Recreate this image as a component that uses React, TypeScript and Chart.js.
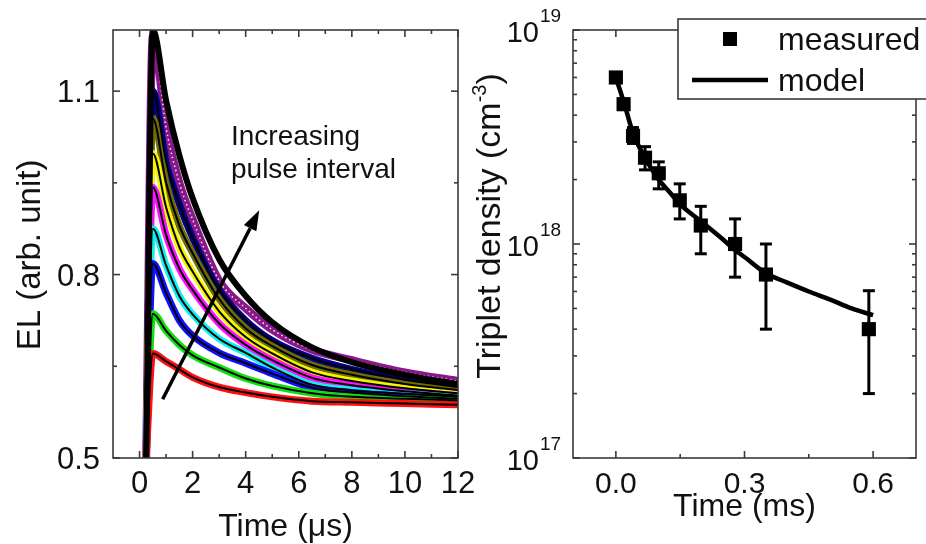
import React, { useEffect, useRef } from 'react';
import { Chart, registerables } from 'chart.js';
Chart.register(...registerables);

const FONT = "'Liberation Sans', Arial, Helvetica, sans-serif";
const INK = '#111111';
const FRAME = '#3a3a3a';

// ---------- left panel: EL transients ----------
const EL_TIME_US = [0.25, 0.5, 1, 1.5, 2, 3, 4, 5, 6.5, 8, 10, 12];
const EL_RED = [0.5, 0.671, 0.658, 0.645, 0.632, 0.616, 0.607, 0.6, 0.593, 0.591, 0.589, 0.587];
const EL_GREEN = [0.5, 0.736, 0.708, 0.685, 0.668, 0.648, 0.63, 0.618, 0.606, 0.6, 0.597, 0.594];
const EL_BLUE = [0.5, 0.818, 0.77, 0.725, 0.7, 0.672, 0.655, 0.638, 0.615, 0.607, 0.601, 0.597];
const EL_CYAN = [0.5, 0.875, 0.815, 0.765, 0.735, 0.695, 0.672, 0.648, 0.62, 0.611, 0.605, 0.6];
const EL_MAGENTA = [0.5, 0.943, 0.865, 0.81, 0.775, 0.72, 0.685, 0.66, 0.631, 0.619, 0.609, 0.602];
const EL_YELLOW = [0.5, 0.998, 0.91, 0.845, 0.805, 0.74, 0.698, 0.671, 0.64, 0.626, 0.614, 0.606];
const EL_OLIVE = [0.5, 1.055, 0.95, 0.88, 0.835, 0.76, 0.712, 0.683, 0.652, 0.636, 0.621, 0.611];
const EL_NAVY = [0.5, 1.1, 0.985, 0.915, 0.86, 0.775, 0.725, 0.692, 0.663, 0.645, 0.628, 0.616];
const EL_PURPLE = [0.5, 1.19, 1.04, 0.95, 0.89, 0.79, 0.745, 0.71, 0.677, 0.66, 0.64, 0.626];
const EL_TOP = [0.5, 1.2, 1.085, 0.995, 0.925, 0.825, 0.765, 0.722, 0.681, 0.657, 0.636, 0.621];

const LEFT_X_TICKS = [0, 2, 4, 6, 8, 10, 12];
const LEFT_X_MINOR = [1, 3, 5, 7, 9, 11];
const LEFT_Y_TICKS = [0.5, 0.8, 1.1];
const LEFT_Y_MINOR = [0.65, 0.95];
const ARROW_TAIL = [0.87, 0.596];
const ARROW_HEAD = [4.51, 0.905];

// ---------- right panel: triplet density ----------
const MEAS_TIME_MS = [0, 0.018, 0.04, 0.068, 0.1, 0.149, 0.198, 0.278, 0.35, 0.59];
const MEAS_DENSITY = [6.0e18, 4.5e18, 3.2e18, 2.53e18, 2.14e18, 1.6e18, 1.22e18, 1.0e18, 7.2e17, 4.0e17];
const MEAS_ERR_LOW = [5.7e18, 4.25e18, 2.95e18, 2.22e18, 1.81e18, 1.31e18, 9.0e17, 7.0e17, 4.0e17, 2.0e17];
const MEAS_ERR_HIGH = [6.3e18, 4.75e18, 3.5e18, 2.85e18, 2.42e18, 1.91e18, 1.5e18, 1.31e18, 1.0e18, 6.05e17];
const MODEL_TIME_MS = [0, 0.02, 0.04, 0.06, 0.08, 0.1, 0.125, 0.15, 0.2, 0.25, 0.28, 0.3, 0.35, 0.4, 0.45, 0.5, 0.55, 0.6];
const MODEL_DENSITY = [6.0e18, 4.5e18, 3.3e18, 2.7e18, 2.3e18, 2.0e18, 1.75e18, 1.53e18, 1.27e18, 1.05e18, 0.93e18, 0.87e18, 0.73e18, 0.66e18, 0.6e18, 0.55e18, 0.5e18, 0.465e18];

const RIGHT_X_TICKS = [0, 0.3, 0.6];
const RIGHT_X_MINOR = [0.15, 0.45];
const RIGHT_Y_EXP = [17, 18, 19];
const LEGEND_LABELS = ['measured', 'model'];

const toXY = (xs: number[], ys: number[]) => xs.map((x, i) => ({ x, y: ys[i] }));

function seg(ctx: CanvasRenderingContext2D, x1: number, y1: number, x2: number, y2: number) {
  ctx.beginPath();
  ctx.moveTo(x1, y1);
  ctx.lineTo(x2, y2);
  ctx.stroke();
}

function text(ctx: CanvasRenderingContext2D, s: string, x: number, y: number, size: number, align: CanvasTextAlign = 'center', rot = 0) {
  ctx.save();
  ctx.translate(x, y);
  if (rot) ctx.rotate(rot);
  ctx.font = `${size}px ${FONT}`;
  ctx.fillStyle = INK;
  ctx.textAlign = align;
  ctx.textBaseline = 'alphabetic';
  ctx.fillText(s, 0, 0);
  ctx.restore();
}

function frameAndTicks(chart: any, xMajor: number[], xMinor: number[], yMajor: number[], yMinor: number[]) {
  const { ctx, chartArea: a, scales } = chart;
  const x = scales.x, y = scales.y;
  ctx.save();
  ctx.strokeStyle = FRAME;
  ctx.lineWidth = 1.6;
  ctx.strokeRect(a.left, a.top, a.right - a.left, a.bottom - a.top);
  const xt = (vals: number[], len: number) => vals.forEach(v => {
    const p = x.getPixelForValue(v);
    seg(ctx, p, a.bottom, p, a.bottom - len);
    seg(ctx, p, a.top, p, a.top + len);
  });
  const yt = (vals: number[], len: number) => vals.forEach(v => {
    const p = y.getPixelForValue(v);
    seg(ctx, a.left, p, a.left + len, p);
    seg(ctx, a.right, p, a.right - len, p);
  });
  xt(xMajor, 7); xt(xMinor, 4); yt(yMajor, 7); yt(yMinor, 4);
  ctx.restore();
}

const leftDecor = {
  id: 'leftDecor',
  afterDatasetsDraw(chart: any) {
    const { ctx, scales: { x, y } } = chart;
    const x1 = x.getPixelForValue(ARROW_TAIL[0]), y1 = y.getPixelForValue(ARROW_TAIL[1]);
    const x2 = x.getPixelForValue(ARROW_HEAD[0]), y2 = y.getPixelForValue(ARROW_HEAD[1]);
    const ang = Math.atan2(y2 - y1, x2 - x1);
    const hl = 20, hw = 7;
    const bx = x2 - hl * Math.cos(ang), by = y2 - hl * Math.sin(ang);
    ctx.save();
    ctx.strokeStyle = '#000';
    ctx.fillStyle = '#000';
    ctx.lineWidth = 3.5;
    seg(ctx, x1, y1, bx, by);
    ctx.beginPath();
    ctx.moveTo(x2, y2);
    ctx.lineTo(bx + hw * Math.sin(ang), by - hw * Math.cos(ang));
    ctx.lineTo(bx - hw * Math.sin(ang), by + hw * Math.cos(ang));
    ctx.closePath();
    ctx.fill();
    ctx.restore();
  },
  afterDraw(chart: any) {
    const { ctx, chartArea: a, scales: { x, y } } = chart;
    frameAndTicks(chart, LEFT_X_TICKS, LEFT_X_MINOR, LEFT_Y_TICKS, LEFT_Y_MINOR);
    LEFT_X_TICKS.forEach(v => text(ctx, String(v), x.getPixelForValue(v), a.bottom + 35, 31));
    LEFT_Y_TICKS.forEach(v => text(ctx, v.toFixed(1), a.left - 13, y.getPixelForValue(v) + 11, 31, 'right'));
    text(ctx, 'Time (\u03bcs)', (a.left + a.right) / 2, a.bottom + 78, 32);
    text(ctx, 'EL (arb. unit)', 40, 295, 33, 'center', -Math.PI / 2);
    text(ctx, 'Increasing', a.left + 118, a.top + 115, 28, 'left');
    text(ctx, 'pulse interval', a.left + 118, a.top + 148, 28, 'left');
  },
};

const rightDecor = {
  id: 'rightDecor',
  afterDatasetsDraw(chart: any) {
    const { ctx, scales: { x, y } } = chart;
    ctx.save();
    ctx.strokeStyle = '#000';
    ctx.lineWidth = 3;
    MEAS_TIME_MS.forEach((t, i) => {
      const px = x.getPixelForValue(t);
      const lo = y.getPixelForValue(MEAS_ERR_LOW[i]);
      const hi = y.getPixelForValue(MEAS_ERR_HIGH[i]);
      seg(ctx, px, lo, px, hi);
      seg(ctx, px - 6, lo, px + 6, lo);
      seg(ctx, px - 6, hi, px + 6, hi);
    });
    ctx.restore();
  },
  afterDraw(chart: any) {
    const { ctx, chartArea: a, scales: { x, y } } = chart;
    const minors: number[] = [];
    for (let e = RIGHT_Y_EXP[0]; e < RIGHT_Y_EXP[RIGHT_Y_EXP.length - 1]; e++) {
      for (let m = 2; m <= 9; m++) minors.push(m * Math.pow(10, e));
    }
    frameAndTicks(chart, RIGHT_X_TICKS, RIGHT_X_MINOR, RIGHT_Y_EXP.map(e => Math.pow(10, e)), minors);
    RIGHT_X_TICKS.forEach(v => text(ctx, v.toFixed(1), x.getPixelForValue(v), a.bottom + 35, 30));
    RIGHT_Y_EXP.forEach(e => {
      const p = y.getPixelForValue(Math.pow(10, e));
      text(ctx, '10', a.left - 34, p + 12, 29, 'right');
      text(ctx, String(e), a.left - 33, p - 8, 19, 'left');
    });
    text(ctx, 'Time (ms)', (a.left + a.right) / 2, a.bottom + 58, 32);

    // y title with superscript
    ctx.save();
    ctx.translate(30, 266);
    ctx.rotate(-Math.PI / 2);
    ctx.fillStyle = INK;
    ctx.textBaseline = 'alphabetic';
    ctx.textAlign = 'left';
    const main = 'Triplet density (cm', sup = '-3', close = ')';
    ctx.font = `34px ${FONT}`;
    const w1 = ctx.measureText(main).width, w3 = ctx.measureText(close).width;
    ctx.font = `20px ${FONT}`;
    const w2 = ctx.measureText(sup).width;
    const sx = -(w1 + w2 + w3) / 2;
    ctx.font = `34px ${FONT}`;
    ctx.fillText(main, sx, 0);
    ctx.font = `20px ${FONT}`;
    ctx.fillText(sup, sx + w1, -14);
    ctx.font = `34px ${FONT}`;
    ctx.fillText(close, sx + w1 + w2, 0);
    ctx.restore();

    // legend
    const bx = a.left + 105, by = a.top - 11, bh = 80, bw = chart.width - bx + 20;
    ctx.save();
    ctx.fillStyle = '#fff';
    ctx.fillRect(bx, by, bw, bh);
    ctx.strokeStyle = FRAME;
    ctx.lineWidth = 1.6;
    ctx.strokeRect(bx, by, bw, bh);
    ctx.fillStyle = '#000';
    ctx.fillRect(bx + 45, by + 13, 14, 14);
    ctx.strokeStyle = '#000';
    ctx.lineWidth = 4.5;
    seg(ctx, bx + 14, by + 61, bx + 90, by + 61);
    ctx.restore();
    text(ctx, LEGEND_LABELS[0], bx + 100, by + 31, 32, 'left');
    text(ctx, LEGEND_LABELS[1], bx + 100, by + 72, 32, 'left');
  },
};

function leftConfig(): any {
  const bands = [
    { v: EL_RED, c: '#ff1010' },
    { v: EL_GREEN, c: '#10e010' },
    { v: EL_BLUE, c: '#1010ff' },
    { v: EL_CYAN, c: '#10f0f0' },
    { v: EL_MAGENTA, c: '#ff10ff' },
    { v: EL_YELLOW, c: '#f5f500' },
    { v: EL_OLIVE, c: '#6e6e00' },
    { v: EL_NAVY, c: '#000080' },
    { v: EL_PURPLE, c: '#8a188a' },
  ];
  const base = { pointRadius: 0, cubicInterpolationMode: 'monotone', fill: false };
  const datasets: any[] = [];
  bands.forEach(b => datasets.push({ ...base, data: toXY(EL_TIME_US, b.v), borderColor: b.c, borderWidth: b.v === EL_PURPLE ? 8 : 7, order: 3 }));
  datasets.push({ ...base, data: toXY(EL_TIME_US, EL_PURPLE), borderColor: 'rgba(255,255,255,0.9)', borderWidth: 1.5, borderDash: [1.5, 3], order: 2 });
  bands.filter(b => b.v !== EL_PURPLE).forEach(b => datasets.push({ ...base, data: toXY(EL_TIME_US, b.v), borderColor: '#000', borderWidth: 2, order: 1 }));
  datasets.push({ ...base, data: toXY(EL_TIME_US, EL_TOP), borderColor: '#000', borderWidth: 6, order: 0 });
  return {
    type: 'line',
    data: { datasets },
    options: {
      animation: false,
      responsive: false,
      maintainAspectRatio: false,
      layout: { padding: { left: 0, right: 32, top: 70, bottom: 0 } },
      plugins: { legend: { display: false }, tooltip: { enabled: false } },
      events: [],
      scales: {
        x: {
          type: 'linear', min: -1, max: 12,
          grid: { display: false }, border: { display: false }, ticks: { display: false },
          afterFit: (s: any) => { s.height = 86; },
        },
        y: {
          type: 'linear', min: 0.5, max: 1.2,
          grid: { display: false }, border: { display: false }, ticks: { display: false },
          afterFit: (s: any) => { s.width = 113; },
        },
      },
    },
    plugins: [leftDecor],
  };
}

function rightConfig(): any {
  return {
    type: 'line',
    data: {
      datasets: [
        {
          label: LEGEND_LABELS[0],
          data: toXY(MEAS_TIME_MS, MEAS_DENSITY),
          showLine: false,
          pointStyle: 'rect',
          pointRadius: 10,
          pointBackgroundColor: '#000',
          pointBorderWidth: 0,
          order: 0,
        },
        {
          label: LEGEND_LABELS[1],
          data: toXY(MODEL_TIME_MS, MODEL_DENSITY),
          borderColor: '#000',
          borderWidth: 4.5,
          pointRadius: 0,
          cubicInterpolationMode: 'monotone',
          order: 1,
        },
      ],
    },
    options: {
      animation: false,
      responsive: false,
      maintainAspectRatio: false,
      layout: { padding: { left: 0, right: 8, top: 70, bottom: 0 } },
      plugins: { legend: { display: false }, tooltip: { enabled: false } },
      events: [],
      scales: {
        x: {
          type: 'linear', min: -0.1, max: 0.7,
          grid: { display: false }, border: { display: false }, ticks: { display: false },
          afterFit: (s: any) => { s.height = 86; },
        },
        y: {
          type: 'logarithmic', min: 1e17, max: 1e19,
          grid: { display: false }, border: { display: false }, ticks: { display: false },
          afterFit: (s: any) => { s.width = 103; },
        },
      },
    },
    plugins: [rightDecor],
  };
}

export default function App() {
  const lRef = useRef<HTMLCanvasElement>(null);
  const rRef = useRef<HTMLCanvasElement>(null);
  useEffect(() => {
    document.body.style.margin = '0';
    const c1 = new Chart(lRef.current as HTMLCanvasElement, leftConfig());
    const c2 = new Chart(rRef.current as HTMLCanvasElement, rightConfig());
    return () => { c1.destroy(); c2.destroy(); };
  }, []);
  return (
    <div style={{ position: 'relative', width: 926, height: 544, overflow: 'hidden', background: '#fff' }}>
      <canvas ref={lRef} width={490} height={584} style={{ position: 'absolute', left: 0, top: -40 }} />
      <canvas ref={rRef} width={456} height={584} style={{ position: 'absolute', left: 470, top: -40 }} />
    </div>
  );
}
